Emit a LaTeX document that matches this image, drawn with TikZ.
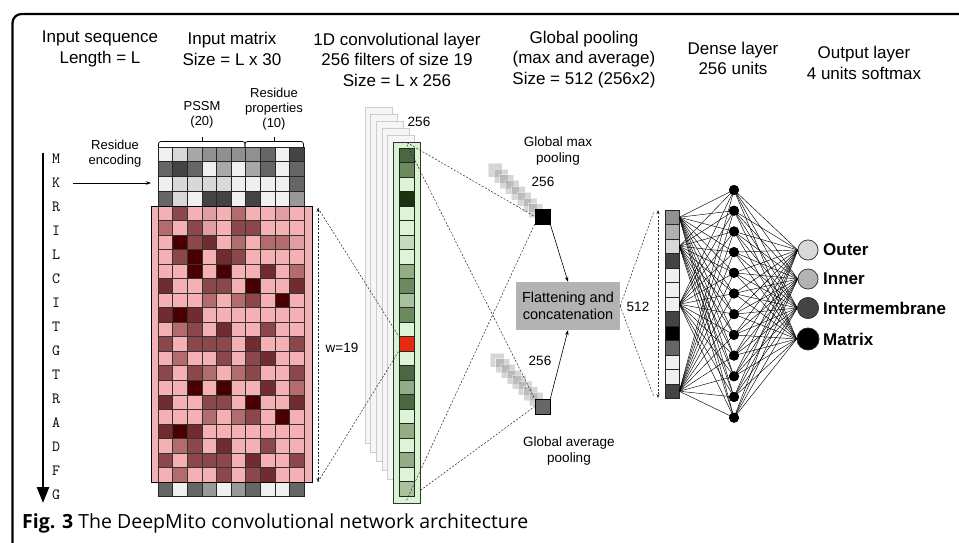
\documentclass[tikz,border=0pt]{standalone}
\usepackage{fontspec}
\setmainfont{Liberation Sans}
\newfontfamily\capfont{Open Sans}
\usetikzlibrary{arrows.meta,calc}
\definecolor{gA}{HTML}{F0F0F0}
\definecolor{gB}{HTML}{D8D8D8}
\definecolor{gC}{HTML}{A8A8A8}
\definecolor{gD}{HTML}{909090}
\definecolor{gE}{HTML}{666666}
\definecolor{gF}{HTML}{444444}
\definecolor{gG}{HTML}{999999}
\definecolor{p0}{HTML}{F5B0B3}
\definecolor{p1}{HTML}{E39C9F}
\definecolor{p2}{HTML}{B46B6E}
\definecolor{p3}{HTML}{8C474A}
\definecolor{p4}{HTML}{722B2E}
\definecolor{p5}{HTML}{4A0003}
\definecolor{gn1}{HTML}{4A6741}
\definecolor{gn2}{HTML}{6B8A5F}
\definecolor{gL}{HTML}{DCF5D6}
\definecolor{gn4}{HTML}{1A3310}
\definecolor{gn5}{HTML}{C3DCB9}
\definecolor{gn6}{HTML}{92AD86}
\definecolor{gn7}{HTML}{A8C29D}
\definecolor{redc}{HTML}{E8290F}
\definecolor{convbg}{HTML}{D9F2D0}
\definecolor{flatc}{HTML}{B3B3B3}
\definecolor{vA}{HTML}{909090}
\definecolor{vB}{HTML}{B0B0B0}
\definecolor{vC}{HTML}{D8D8D8}
\definecolor{vD}{HTML}{444444}
\definecolor{vE}{HTML}{F0F0F0}
\definecolor{vF}{HTML}{000000}
\definecolor{vG}{HTML}{666666}
\definecolor{stk}{HTML}{8A8A8A}
\begin{document}
\begin{tikzpicture}[x=1pt,y=-1pt,
  head/.style={align=center,inner sep=0pt,font=\fontsize{17}{20.5}\selectfont},
  lbl/.style={align=center,inner sep=0pt,font=\fontsize{13.5}{16}\selectfont},
  slbl/.style={align=center,inner sep=0pt,font=\fontsize{13}{15}\selectfont},
  dashln/.style={line width=0.5pt,dash pattern=on 2pt off 1.6pt,black!85},
  cellg/.style={draw=black!85,line width=0.6pt},
  pool/.style={draw=black,minimum size=15pt,inner sep=0pt,line width=0.6pt},
  seq/.style={inner sep=0pt,font=\ttfamily\fontsize{15.5}{15.5}\selectfont},
  vcell/.style={draw=black!85,line width=0.6pt,minimum width=14pt,minimum height=14.5pt,inner sep=0pt},
  dnode/.style={circle,fill=black,minimum size=10pt,inner sep=0pt},
  onode/.style={circle,draw=black!80,line width=0.6pt,inner sep=0pt},
  outl/.style={anchor=west,inner sep=0pt,font=\bfseries\fontsize{17}{20}\selectfont},
  conn/.style={line width=0.45pt,black},
  tip/.style={-{Stealth[length=5pt,width=3.5pt]}},
  stack/.style={fill=stk,opacity=0.35,draw=white,draw opacity=0.5,line width=0.4pt}
]
\useasboundingbox (0,0) rectangle (959,543);
\fill[white] (0,0) rectangle (959,543);
% frame
\draw[line width=2.2pt,rounded corners=9pt] (12.5,560) -- (12.5,14) -- (980,14);

% headings
\node[head] (h1) at (100,49) {Input sequence\\Length = L};
\node[head] (h2) at (232,49) {Input matrix\\Size = L x 30};
\node[head] (h3) at (397,59.5) {1D convolutional layer\\256 filters of size 19\\Size = L x 256};
\node[head] (h4) at (584,59.5) {Global pooling\\(max and average)\\Size = 512 (256x2)};
\node[head] (h5) at (733,58.5) {Dense layer\\256 units};
\node[head] (h6) at (864,63) {Output layer\\4 units softmax};

% sequence
\foreach \L [count=\k from 0] in {M,K,R,I,L,C,I,T,G,T,R,A,D,F,G}
  \node[seq] (s\k) at (56,{159+24*\k}) {\L};
\draw[line width=2.6pt,-{Triangle[length=16pt,width=12pt]}] (43,153) -- (43,503);

% residue encoding
\node[slbl] (enclbl) at (115,154) {Residue\\encoding};
\coordinate (encA) at (73,183);
\coordinate (encB) at (151,183);
\draw[line width=0.6pt,tip] (encA) -- (encB);

% brackets
\node[slbl] (pssm) at (202,114.5) {PSSM\\(20)};
\node[slbl] (rprop) at (274,109) {Residue\\properties\\(10)};
\draw[line width=0.7pt,rounded corners=2.5pt] (158.5,147) -- (158.5,141.5) -- (245,141.5) -- (245,147);
\draw[line width=0.7pt,rounded corners=2.5pt] (245,147) -- (245,141.5) -- (303.5,141.5) -- (303.5,147);
\draw[line width=0.7pt] (202,141.5) -- (202,136.5);
\draw[line width=0.7pt] (274,141.5) -- (274,136.5);

% grey header rows
\foreach \rowv [count=\r from 0] in {{gA,gB,gC,gD,gD,gD,gD,gE,gA,gF},{gE,gF,gE,gA,gC,gA,gC,gE,gA,gE},{gA,gB,gB,gB,gB,gA,gA,gA,gA,gE},{gE,gB,gA,gF,gF,gA,gF,gA,gA,gG}}{
  \foreach \cc [count=\k from 0] in \rowv {
    \filldraw[cellg,fill=\cc] ({158+14.6*\k},{147+14.75*\r}) rectangle ++(14.6,14.75);
  }
}
% bottom grey row
\foreach \cc [count=\k from 0] in {gE,gA,gE,gG,gA,gG,gE,gA,gA,gE}
  \filldraw[cellg,fill=\cc] ({158+14.6*\k},482) rectangle ++(14.6,14.5);

% pink matrix
\filldraw[fill=p0,draw=black,line width=0.8pt] (151,206) rectangle (312,482);
\foreach \rowv [count=\r from 0] in {
 {0,3,0,1,0,2,0,0,1,0},{2,0,3,1,0,3,3,0,0,0},{0,5,3,4,0,2,0,2,2,1},{0,3,5,0,4,3,0,0,0,0},
 {0,0,5,0,5,0,0,4,0,2},{4,0,0,3,3,0,5,0,0,4},{0,0,0,2,0,2,3,0,5,0},{4,5,4,0,0,0,0,0,0,0},
 {0,2,3,0,4,0,0,3,0,0},{3,0,3,3,3,0,4,0,0,3},{0,2,0,0,3,0,3,4,0,0},{3,0,3,2,0,2,3,0,0,3},
 {0,0,5,0,5,0,0,4,0,2},{4,0,0,3,3,0,5,0,0,4},{0,0,0,2,0,2,3,0,5,0},{4,5,4,0,0,0,0,0,0,0},
 {0,2,3,0,4,0,0,3,0,0},{3,0,3,3,3,0,4,0,0,3},{0,2,0,0,3,0,3,4,0,0}}{
  \foreach \cc [count=\k from 0] in \rowv {
    \filldraw[draw=black!80,line width=0.6pt,fill=p\cc] ({158+14.6*\k},{206+14.526*\r}) rectangle ++(14.6,14.526);
  }
}
\draw[black,line width=0.8pt] (151,206) rectangle (312,482);

% conv layer stack
\foreach \i in {0,...,4}
  \filldraw[fill=gray!7,draw=gray!40,line width=0.6pt] ({365+5.6*\i},{107+7*\i}) rectangle ++(27,{336+2*\i});
\node[draw=black!80,fill=convbg,minimum width=27pt,minimum height=361pt,inner sep=0pt,line width=0.7pt] (conv) at (406.5,322.5) {};
\foreach \cc [count=\k from 0] in {gn1,gn2,gL,gn4,gL,gL,gn5,gL,gn6,gn2,gn7,gn2,gL,redc,gL,gn1,gn6,gn1,gL,gn6,gL,gn6,gL,gn7}
  \filldraw[draw=black!85,line width=0.6pt,fill=\cc] (399,{148+14.5*\k}) rectangle ++(15,14.5);
\node[draw=black!85,line width=0.6pt,fill=redc,minimum width=15pt,minimum height=14.5pt,inner sep=0pt] (red) at (406.5,343.75) {};
\node[lbl] (c256) at (419,122) {256};

% window arrow
\coordinate (wtop) at (318,208);
\coordinate (wbot) at (318,482);
\draw[dashln,{Stealth[length=4pt,width=3pt]}-{Stealth[length=4pt,width=3pt]}] (wtop) -- (wbot);
\draw[dashln] (wtop) -- (red.north west);
\draw[dashln] (wbot) -- (red.south west);
\node[lbl] (wl) at (342,348) {w=19};

% pooling stacks
\foreach \i in {0,...,7}
  \filldraw[stack] ({488+5.8*\i},{163+5.8*\i}) rectangle ++(14,14);
\foreach \i in {0,...,7}
  \filldraw[stack] ({490+5.6*\i},{353+5.6*\i}) rectangle ++(14,14);
\node[pool,fill=black] (maxp) at (542.5,216.5) {};
\node[pool,fill=black!60] (avgp) at (542.5,406.5) {};
\node[lbl] (m256) at (543,182) {256};
\node[lbl] (a256) at (540,361) {256};
\node[lbl] (maxl) at (558,151) {Global max\\pooling};
\node[lbl] (avgl) at (569,451) {Global average\\pooling};

% conv to pooling
\draw[dashln] ($(conv.north)+(0.5,1)$) -- (maxp.west);
\draw[dashln] ($(conv.north)+(0.5,3)$) -- (avgp.north west);
\draw[dashln] ($(conv.south)+(0,-3)$) -- (maxp.south west);
\draw[dashln] ($(conv.south east)+(0,-13)$) -- (avgp.west);

% flatten
\node[fill=flatc,minimum width=104pt,minimum height=48pt,inner sep=0pt,align=center,font=\fontsize{14.5}{17}\selectfont] (flat) at (568,306) {Flattening and\\concatenation};
\draw[line width=0.6pt,tip] (maxp.south east) -- (flat.north);
\draw[line width=0.6pt,tip] (avgp.north east) -- (flat.south);

% vector
\foreach \cc [count=\k from 1] in {vA,vB,vC,vD,vE,vE,vE,vD,vF,vG,vE,vE,vD}
  \node[vcell,fill=\cc] (v\k) at (672,{210+14.5*(\k-0.5)}) {};
\coordinate (vt) at (658,210);
\coordinate (vb) at (658,398);
\draw[dashln,{Stealth[length=4pt,width=3pt]}-{Stealth[length=4pt,width=3pt]}] (vt) -- (vb);
\draw[dashln] (flat.east) -- ($(vt)+(-4,1)$);
\draw[dashln] (flat.east) -- ($(vb)+(-4,-1)$);
\node[lbl] (l512) at (638,307) {512};

% dense
\foreach \k in {1,...,12}
  \node[dnode] (d\k) at (734,{190+20.7*(\k-1)}) {};
% output
\node[onode,fill=gB,minimum size=20pt] (o1) at (808,250) {};
\node[onode,fill=flatc,minimum size=20pt] (o2) at (808,279) {};
\node[onode,fill=gF,minimum size=21pt] (o3) at (808,308) {};
\node[onode,fill=black,minimum size=22pt] (o4) at (808,339) {};

\foreach \s in {1,3,7,13}
  \foreach \k in {1,...,12}
    \draw[conn] (v\s.east) -- (d\k.center);
\foreach \k in {1,...,12}
  \foreach \o in {1,...,4}
    \draw[conn] (d\k.center) -- (o\o.west);
\foreach \k in {1,...,12}
  \node[dnode] at (d\k) {};
\node[onode,fill=gB,minimum size=20pt] at (o1) {};
\node[onode,fill=flatc,minimum size=20pt] at (o2) {};
\node[onode,fill=gF,minimum size=21pt] at (o3) {};
\node[onode,fill=black,minimum size=22pt] at (o4) {};

\node[outl] (lo1) at (823,250) {Outer};
\node[outl] (lo2) at (823,279) {Inner};
\node[outl] (lo3) at (823,308) {Intermembrane};
\node[outl] (lo4) at (823,339) {Matrix};

% caption
\node[anchor=base west,inner sep=0pt,font=\capfont\fontsize{19.5}{22}\selectfont] (cap) at (22,528) {\textbf{Fig. 3} The DeepMito convolutional network architecture};
\end{tikzpicture}
\end{document}
